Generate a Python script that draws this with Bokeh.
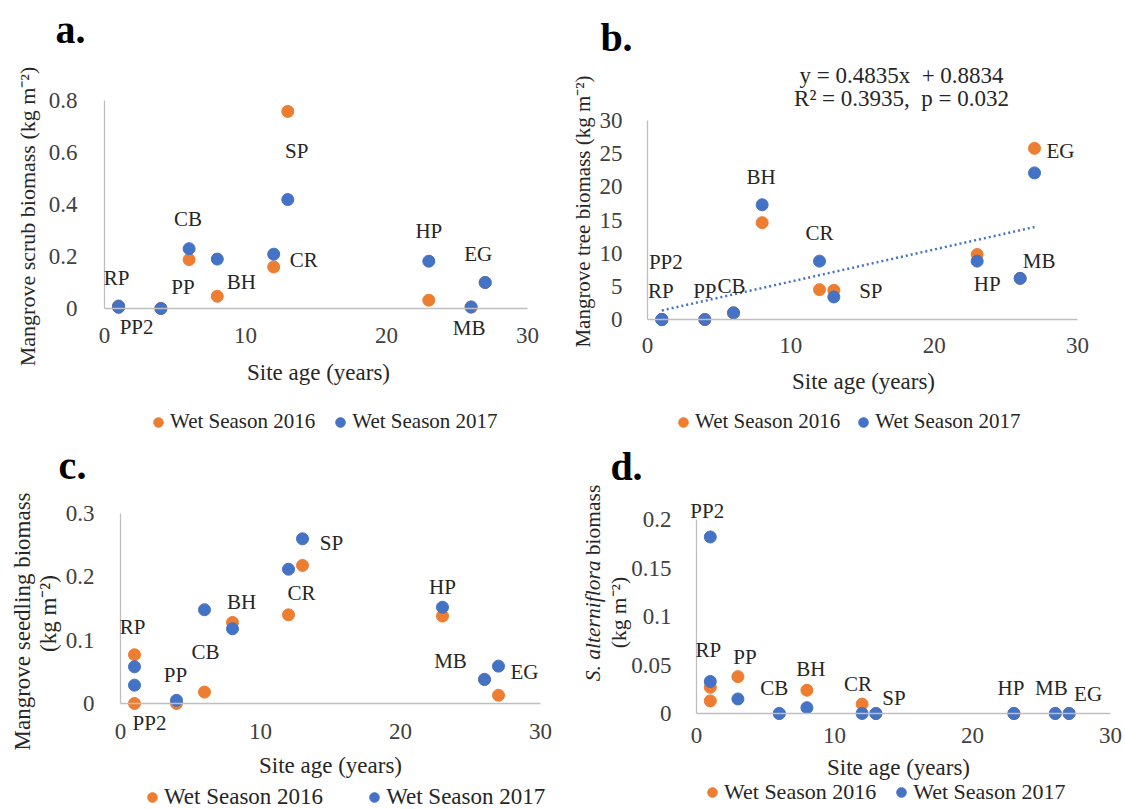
import math
from bokeh.plotting import figure
from bokeh.models import (Range1d, FixedTicker, NumeralTickFormatter, Label, LabelSet,
                          ColumnDataSource, Legend, LegendItem)
from bokeh.layouts import column, row
from bokeh.embed import file_html
from bokeh.resources import INLINE
from bokeh.core.properties import value

# ---------------- data ----------------
sites = ["RP", "PP2", "PP", "CB", "BH", "CR", "SP", "HP", "MB", "EG"]
site_age = [1, 1, 4, 6, 8, 12, 13, 23, 26, 27]
site_age_d = [1, 1, 3, 6, 8, 12, 13, 23, 26, 27]

scrub_2016 = [0.010, 0.005, 0.0, 0.188, 0.047, 0.160, 0.758, 0.032, 0.005, 0.100]
scrub_2017 = [0.008, 0.005, 0.0, 0.230, 0.190, 0.209, 0.419, 0.182, 0.006, 0.100]

tree_2016 = [0.0, 0.0, 0.0, 1.0, 14.6, 4.5, 4.4, 9.8, 6.2, 25.8]
tree_2017 = [0.0, 0.0, 0.0, 1.0, 17.3, 8.8, 3.4, 8.8, 6.2, 22.1]
tree_fit_slope = 0.4835
tree_fit_intercept = 0.8834
tree_fit_x = [1, 27]

seedling_2016 = [0.077, 0.0, 0.0, 0.018, 0.128, 0.140, 0.218, 0.138, 0.038, 0.013]
seedling_2017 = [0.058, 0.029, 0.005, 0.148, 0.118, 0.212, 0.260, 0.152, 0.038, 0.059]

spartina_2016 = [0.027, 0.013, 0.038, 0.0, 0.024, 0.0097, 0.0, 0.0, 0.0, 0.0]
spartina_2017 = [0.033, 0.182, 0.015, 0.0, 0.006, 0.0, 0.0, 0.0, 0.0, 0.0]

x_ticks = [0, 10, 20, 30]
y_ticks_a = [0, 0.2, 0.4, 0.6, 0.8]
y_ticks_b = [0, 5, 10, 15, 20, 25, 30]
y_ticks_c = [0, 0.1, 0.2, 0.3]
y_ticks_d = [0, 0.05, 0.1, 0.15, 0.2]

# ---------------- style / layout ----------------
FONT = "Liberation Serif"
ORANGE = "#ED7D31"
BLUE = "#4472C4"
TXT = "#262626"
TICK = "#404040"
AXIS = "#bfbfbf"
FS_AX = "23px"
FS_LAB = "21px"
FS_TAG = "40px"
MS = 12
ROW1_H = 436
ROW2_H = 809 - ROW1_H

# label offsets in pixels (dx right, dy down) relative to the 2017 point
LAB_A = {"RP": (-2, -28), "PP2": (18, 20), "PP": (22, -22), "CB": (-1, -30), "BH": (24, 23),
         "CR": (30, 6), "SP": (9, -49), "HP": (0, -30), "MB": (-2, 21), "EG": (-7, -29)}
LAB_B = {"RP": (-1, -29), "PP2": (4, -58), "PP": (0, -29), "CB": (-2, -27), "BH": (-1, -28),
         "CR": (0, -28), "SP": (37, -6), "HP": (10, 23), "MB": (19, -17), "EG": (26, -22)}
LAB_C = {"RP": (-2, -40), "PP2": (15, 38), "PP": (-1, -25), "CB": (1, 42), "BH": (9, -27),
         "CR": (13, 24), "SP": (29, 4), "HP": (0, -20), "MB": (-34, -18), "EG": (26, 6)}
LAB_D = {"PP2": (-3, -26), "RP": (-2, -31), "PP": (7, -42), "CB": (-5, -26), "BH": (4, -39),
         "CR": (-4, -30), "SP": (18, -16), "HP": (-3, -26), "MB": (-4, -26), "EG": (19, -20)}


def make_panel(origin, W, H, geo, yticks, yfmt, ystand, xstand):
    """geo: page-pixel positions of x=0, x=30, y=0, y=ytop, and ytop."""
    ox, oy = origin
    x0, x30, y0, ytop_px, ytop = geo
    x0 -= ox
    x30 -= ox
    y0 -= oy
    ytop_px -= oy
    sx = (x30 - x0) / 30.0
    sy = (y0 - ytop_px) / ytop
    xr = ((0 - x0) / sx, (W - x0) / sx)
    yr = ((y0 - H) / sy, y0 / sy)
    p = figure(width=W, height=H, x_range=Range1d(*xr), y_range=Range1d(*yr),
               min_border=0, title=None, output_backend="svg", toolbar_location=None)
    p.outline_line_color = None
    p.grid.visible = False
    p.background_fill_color = "white"
    p.border_fill_color = "white"
    for ax, ticks, b, fmt, st in ((p.xaxis, x_ticks, (0, 30), "0", xstand),
                                  (p.yaxis, yticks, (0, ytop), yfmt, ystand)):
        ax.fixed_location = 0
        ax.bounds = b
        ax.ticker = FixedTicker(ticks=ticks)
        ax.formatter = NumeralTickFormatter(format=fmt)
        ax.axis_line_color = AXIS
        ax.axis_line_width = 1.3
        ax.major_tick_line_color = None
        ax.minor_tick_line_color = None
        ax.major_label_text_font = FONT
        ax.major_label_text_font_size = FS_AX
        ax.major_label_text_color = TICK
        ax.major_label_standoff = st

    def px(xp, yp):
        return (xp - ox - x0) / sx, (y0 - (yp - oy)) / sy

    p.tags = [ox, oy, H]
    return p, px


def text(p, pos, s, size=FS_AX, style="normal", angle=0.0, align="center", color=TXT):
    p.add_layout(Label(x=pos[0], y=pos[1], text=s, text_font=FONT, text_font_size=size,
                       text_font_style=style, angle=angle, text_align=align,
                       text_baseline="middle", text_color=color))


def points(p, ages, v16, v17):
    r16 = p.scatter(ages, v16, size=MS, color=ORANGE, line_color=ORANGE)
    r17 = p.scatter(ages, v17, size=MS, color=BLUE, line_color=BLUE)
    return r16, r17


def site_labels(p, ages, v17, offs):
    src = ColumnDataSource(dict(x=ages, y=v17, t=sites,
                                xo=[offs[s][0] for s in sites],
                                yo=[-offs[s][1] for s in sites]))
    p.add_layout(LabelSet(source=src, x="x", y="y", text="t", x_offset="xo", y_offset="yo",
                          text_align="center", text_baseline="middle",
                          text_font=value(FONT), text_font_size=value(FS_LAB),
                          text_color=TXT))


def legend(p, r16, r17, dot1_px, yc_px, fs, spacing):
    ox, oy, H = p.tags
    gw = 24
    lg = Legend(items=[LegendItem(label="Wet Season 2016", renderers=[r16]),
                       LegendItem(label="Wet Season 2017", renderers=[r17])],
                orientation="horizontal",
                location=(int(round(dot1_px - ox - gw / 2)), int(round(H - (yc_px - oy + 12)))),
                padding=0, margin=0, spacing=spacing,
                glyph_width=gw, glyph_height=24, label_standoff=-5, label_height=24,
                border_line_color=None, background_fill_alpha=0,
                label_text_font=FONT, label_text_font_size=fs, label_text_color=TXT)
    p.add_layout(lg)


# ---------------- panel a ----------------
pa, ca = make_panel((0, 0), 560, ROW1_H, (104, 527, 308, 100, 0.8), y_ticks_a, "0.[00]", 21, 13)
ra16, ra17 = points(pa, site_age, scrub_2016, scrub_2017)
site_labels(pa, site_age, scrub_2017, LAB_A)
text(pa, ca(70, 29), "a.", size=FS_TAG, style="bold", color="#000000")
text(pa, ca(27, 216), "Mangrove scrub biomass (kg m\u207b\u00b2)", size="22px", angle=math.pi / 2)
text(pa, ca(318, 372), "Site age (years)")
legend(pa, ra16, ra17, 158, 422, "21px", 13)

# ---------------- panel b ----------------
pb, cb = make_panel((560, 0), 565, ROW1_H, (647, 1077, 319, 120, 30), y_ticks_b, "0", 19, 12)
fit_y = [tree_fit_slope * x + tree_fit_intercept for x in tree_fit_x]
pb.line(tree_fit_x, fit_y, line_color=BLUE, line_width=2.5, line_dash="2 3")
rb16, rb17 = points(pb, site_age, tree_2016, tree_2017)
site_labels(pb, site_age, tree_2017, LAB_B)
text(pb, cb(616, 37), "b.", size=FS_TAG, style="bold", color="#000000")
text(pb, cb(901, 75), "y = 0.4835x \u00a0+ 0.8834")
text(pb, cb(901, 98), "R\u00b2 = 0.3935, \u00a0p = 0.032")
text(pb, cb(582, 211), "Mangrove tree biomass (kg m\u207b\u00b2)", size="21px", angle=math.pi / 2)
text(pb, cb(863, 381), "Site age (years)")
legend(pb, rb16, rb17, 683, 422, "21px", 11)

# ---------------- panel c ----------------
pc, cc = make_panel((0, ROW1_H), 560, ROW2_H, (120, 540, 703, 513, 0.3), y_ticks_c, "0.[00]", 20, 14)
rc16, rc17 = points(pc, site_age, seedling_2016, seedling_2017)
site_labels(pc, site_age, seedling_2017, LAB_C)
text(pc, cc(72, 465), "c.", size=FS_TAG, style="bold", color="#000000")
text(pc, cc(22, 621), "Mangrove seedling biomass", angle=math.pi / 2)
text(pc, cc(48, 613), "(kg m\u207b\u00b2)", angle=math.pi / 2)
text(pc, cc(330, 765), "Site age (years)")
legend(pc, rc16, rc17, 152, 798, "23px", 39)

# ---------------- panel d ----------------
pd_, cd = make_panel((560, ROW1_H), 565, ROW2_H, (696, 1110, 713, 519, 0.2), y_ticks_d, "0.[00]", 19, 8)
rd16, rd17 = points(pd_, site_age_d, spartina_2016, spartina_2017)
site_labels(pd_, site_age_d, spartina_2017, LAB_D)
text(pd_, cd(626, 466), "d.", size=FS_TAG, style="bold", color="#000000")
text(pd_, cd(592, 560), "S. alterniflora", size="21.5px", style="italic", angle=math.pi / 2, align="right")
text(pd_, cd(592, 560), "\u00a0biomass", size="21.5px", angle=math.pi / 2, align="left")
text(pd_, cd(618, 612), "(kg m\u207b\u00b2)", size="21.5px", angle=math.pi / 2)
text(pd_, cd(898, 767), "Site age (years)")
legend(pd_, rd16, rd17, 712, 793, "22px", 13)

layout = column(row(pa, pb), row(pc, pd_))
open("out.html", "w").write(file_html(layout, INLINE))
